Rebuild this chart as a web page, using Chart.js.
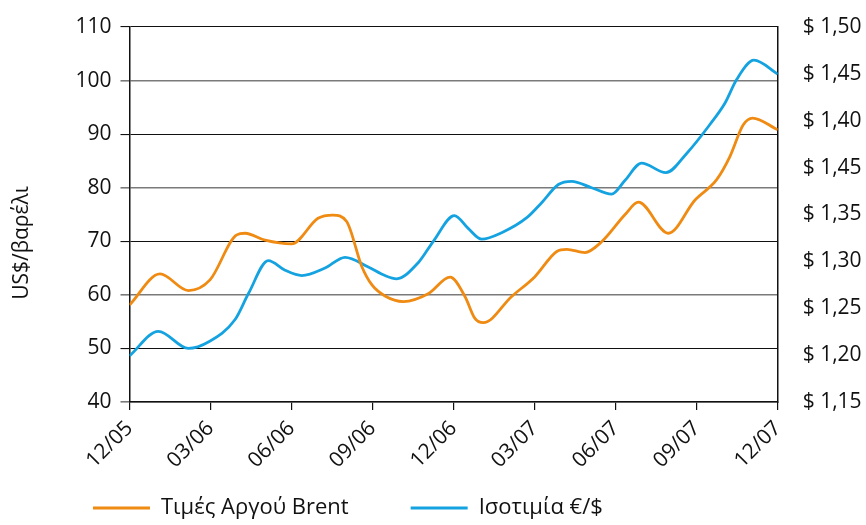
<!DOCTYPE html>
<html>
<head>
<meta charset="utf-8">
<script src="https://cdn.jsdelivr.net/npm/chart.js@4/dist/chart.umd.min.js"></script>
<style>
  html, body { margin: 0; padding: 0; background: #fff; }
  #wrap { width: 866px; height: 525px; position: relative; }
</style>
</head>
<body>
<div id="wrap"><canvas id="c" width="866" height="525"></canvas></div>
<script>
// ---- Data (x = months since 12/05) ----
const xTickLabels = ["12/05", "03/06", "06/06", "09/06", "12/06", "03/07", "06/07", "09/07", "12/07"];
const leftTickLabels = [40, 50, 60, 70, 80, 90, 100, 110];
const rightTickLabels = ["$ 1,15", "$ 1,20", "$ 1,25", "$ 1,30", "$ 1,35", "$ 1,45", "$ 1,40", "$ 1,45", "$ 1,50"];

const brentMonths = [0, 1.13, 2.18, 2.98, 3.97, 4.28, 5.02, 6.0, 6.98, 7.53, 8.04, 8.6, 8.97, 9.46, 10.14, 11.06, 11.87, 12.42, 12.79, 13.1, 14.15, 15.01, 15.82, 16.19, 16.86, 17.48, 18.35, 18.84, 19.95, 20.94, 21.74, 22.23, 22.72, 23.07, 24];
const brentPrice  = [58.1, 63.9, 60.8, 62.8, 71.2, 71.5, 70.2, 69.5, 74.3, 74.9, 73.7, 65.3, 61.9, 59.8, 58.75, 60.2, 63.3, 59.7, 55.6, 54.8, 59.7, 63.4, 68.1, 68.5, 67.9, 69.9, 75.0, 77.3, 71.5, 77.7, 81.5, 85.8, 91.7, 93.0, 90.8];

const fxMonths = [0, 1.07, 2.18, 2.92, 3.91, 4.4, 5.14, 5.76, 6.38, 7.24, 7.98, 8.84, 9.46, 9.89, 10.69, 11.25, 12.03, 12.54, 13.04, 13.78, 14.71, 15.26, 15.88, 16.37, 17.11, 17.85, 18.35, 18.96, 19.86, 20.63, 21.49, 22.05, 22.48, 23.12, 24];
const fxRate   = [1.193, 1.216, 1.200, 1.206, 1.227, 1.251, 1.282, 1.273, 1.268, 1.275, 1.285, 1.276, 1.268, 1.265, 1.280, 1.300, 1.324, 1.312, 1.302, 1.308, 1.322, 1.336, 1.353, 1.356, 1.350, 1.344, 1.357, 1.373, 1.364, 1.382, 1.409, 1.429, 1.451, 1.469, 1.456];

const seriesNames = ["Τιμές Αργού Brent", "Ισοτιμία €/$"];
const yTitle = "US$/βαρέλι";

const ORANGE = '#EF8A12';
const BLUE = '#14A3E0';
const FONT = "'Open Sans', 'Noto Sans', sans-serif";

const toXY = (xs, ys) => xs.map((x, i) => ({ x: x, y: ys[i] }));

// draws rotated y-axis title
const yTitlePlugin = {
  id: 'yTitle',
  afterDraw(chart) {
    const ctx = chart.ctx;
    const a = chart.chartArea;
    ctx.save();
    ctx.translate(22, a.bottom - 159);
    ctx.rotate(-Math.PI / 2);
    ctx.font = "21px " + FONT;
    ctx.fillStyle = '#111';
    ctx.textAlign = 'center';
    ctx.textBaseline = 'middle';
    ctx.fillText(yTitle, 0, 0);
    ctx.restore();
  }
};

// nudge the legend a few pixels lower
const legendShift = {
  id: 'legendShift',
  afterLayout(chart) {
    if (chart.legend) {
      chart.legend.top += 4;
      chart.legend.bottom += 4;
    }
  }
};

new Chart(document.getElementById('c'), {
  type: 'line',
  data: {
    datasets: [
      {
        label: seriesNames[0],
        data: toXY(brentMonths, brentPrice),
        borderColor: ORANGE,
        backgroundColor: ORANGE,
        borderWidth: 2.8,
        pointRadius: 0,
        cubicInterpolationMode: 'monotone',
        yAxisID: 'y'
      },
      {
        label: seriesNames[1],
        data: toXY(fxMonths, fxRate),
        borderColor: BLUE,
        backgroundColor: BLUE,
        borderWidth: 2.8,
        pointRadius: 0,
        cubicInterpolationMode: 'monotone',
        yAxisID: 'y1'
      }
    ]
  },
  options: {
    responsive: false,
    animation: false,
    layout: { padding: { left: 31, right: 0, top: 27, bottom: 0 } },
    plugins: {
      tooltip: { enabled: false },
      legend: {
        position: 'bottom',
        align: 'start',
        labels: {
          boxWidth: 57,
          boxHeight: 3,
          padding: 62,
          color: '#111',
          font: { family: FONT, size: 22 },
          generateLabels(chart) {
            const items = Chart.defaults.plugins.legend.labels.generateLabels(chart);
            items.forEach(it => { it.lineWidth = 0; });
            return items;
          }
        }
      }
    },
    scales: {
      x: {
        type: 'linear',
        min: 0,
        max: 24,
        afterBuildTicks(scale) {
          scale.ticks = xTickLabels.map((_, i) => ({ value: i * 3 }));
        },
        afterFit(scale) {
          scale.height = 29;
          // let rotated labels extend below the (short) axis box
          scale._computeLabelArea = () => undefined;
        },
        ticks: {
          autoSkip: false,
          maxRotation: 45,
          minRotation: 45,
          padding: 6,
          color: '#111',
          font: { family: FONT, size: 21 },
          callback: (v, i) => xTickLabels[i]
        },
        grid: { drawOnChartArea: false, tickLength: 8, color: '#111', lineWidth: 1.2 },
        border: { color: '#111', width: 1.5 }
      },
      y: {
        position: 'left',
        min: 40,
        max: 110,
        afterBuildTicks(scale) {
          scale.ticks = leftTickLabels.map(v => ({ value: v }));
        },
        afterFit(scale) {
          scale.width = 98.5;
          scale.paddingTop = 12;
          scale.paddingBottom = 12;
        },
        ticks: {
          padding: 9,
          color: '#111',
          font: { family: FONT, size: 21 },
          callback: v => String(v)
        },
        grid: {
          tickLength: 9,
          color: c => (c.tick && c.tick.value % 20 === 0) ? '#7a7a7a' : '#111',
          lineWidth: c => (c.tick && c.tick.value % 20 === 0) ? 1.6 : 1.1
        },
        border: { color: '#111', width: 1.5 }
      },
      y1: {
        position: 'right',
        min: 1.15,
        max: 1.50,
        afterBuildTicks(scale) {
          const n = rightTickLabels.length - 1;
          scale.ticks = rightTickLabels.map((_, i) => ({ value: 1.15 + (0.35 * i) / n }));
        },
        afterFit(scale) {
          scale.width = 88.3;
          scale.paddingTop = 12;
          scale.paddingBottom = 12;
        },
        ticks: {
          padding: 25,
          color: '#111',
          font: { family: FONT, size: 21 },
          callback: (v, i) => rightTickLabels[i]
        },
        grid: { display: false, drawTicks: false },
        border: { color: '#111', width: 1.5 }
      }
    }
  },
  plugins: [yTitlePlugin, legendShift]
});
</script>
</body>
</html>
